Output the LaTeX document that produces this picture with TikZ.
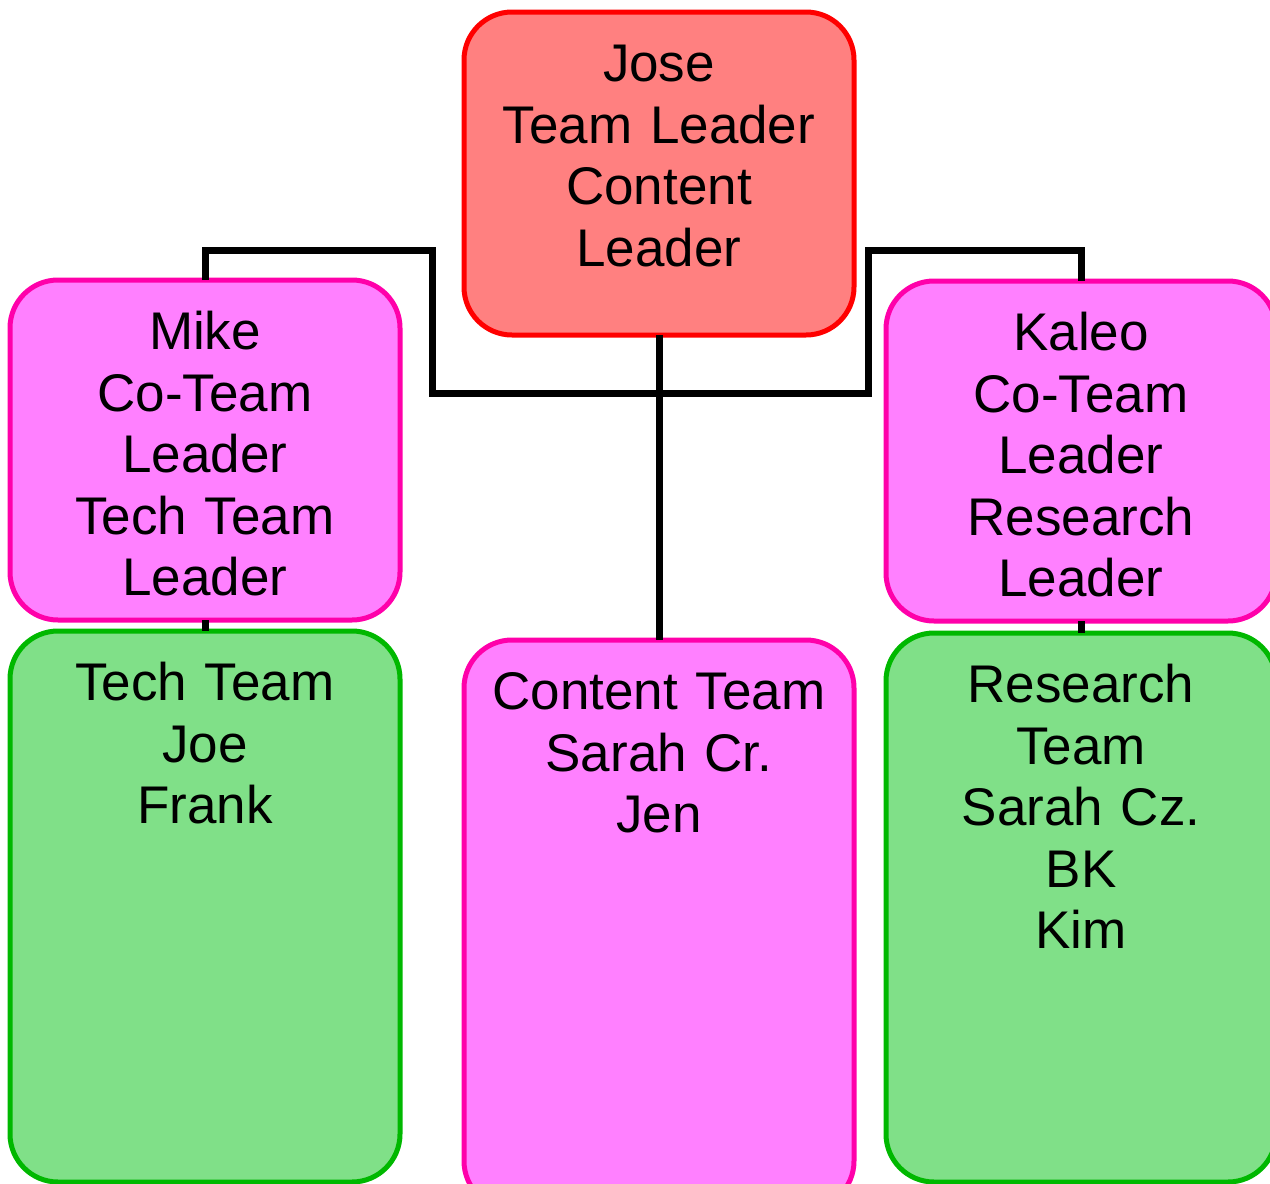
\documentclass[tikz,border=0pt]{standalone}
\usepackage{fontspec}
\setmainfont{Liberation Sans}
\definecolor{redline}{HTML}{FF0000}
\definecolor{redfill}{HTML}{FF8080}
\definecolor{pinkline}{HTML}{FF00AA}
\definecolor{pinkfill}{HTML}{FF80FF}
\definecolor{greenline}{HTML}{00B800}
\definecolor{greenfill}{HTML}{80E088}
\begin{document}
\begin{tikzpicture}[x=1pt,y=-1pt,
  orgbox/.style={draw, line width=5pt, rounded corners=48pt, anchor=north, outer sep=0pt,
    minimum width=390pt, text width=380pt, align=center, inner xsep=5pt, inner ysep=0pt,
    font=\fontsize{53}{61.5}\selectfont, text height=69.5pt},
  redbox/.style={orgbox, draw=redline, fill=redfill},
  pinkbox/.style={orgbox, draw=pinkline, fill=pinkfill},
  greenbox/.style={orgbox, draw=greenline, fill=greenfill},
  conn/.style={draw=black, line width=7pt, line join=miter}]
\useasboundingbox (0,0) rectangle (1270,1184);
\node[redbox, text depth=253.5pt] (jose) at (659,12) {Jose\\Team Leader\\Content\\Leader};
\node[pinkbox, text depth=270.5pt] (mike) at (205,280) {Mike\\Co-Team\\Leader\\Tech Team\\Leader};
\node[pinkbox, text depth=270.5pt] (kaleo) at (1081,281) {Kaleo\\Co-Team\\Leader\\Research\\Leader};
\node[greenbox, text depth=481.5pt] (tech) at (205,631) {Tech Team\\Joe\\Frank};
\node[pinkbox, text depth=499.5pt] (content) at (659,640) {Content Team\\Sarah Cr.\\Jen};
\node[greenbox, text depth=479.5pt] (research) at (1081,633) {Research\\Team\\Sarah Cz.\\BK\\Kim};
\coordinate (busL) at (432,393);
\coordinate (busR) at (868,393);
\draw[conn] (mike.north) -- (205,250) -- (432,250) -- (busL) -- (busR) -- (868,250) -- (1081,250) -- (kaleo.north);
\draw[conn] (jose.south) -- (content.north);
\draw[conn] (mike.south) -- (tech.north);
\draw[conn] (kaleo.south) -- (research.north);
\end{tikzpicture}
\end{document}
